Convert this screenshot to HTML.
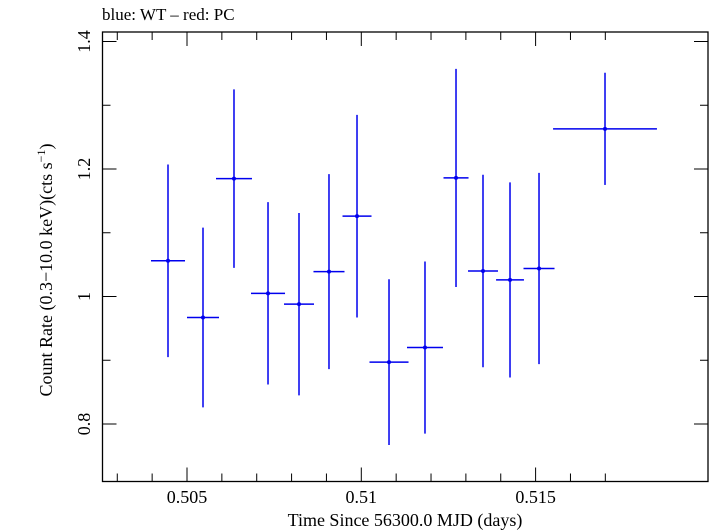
<!DOCTYPE html>
<html><head><meta charset="utf-8"><style>
html,body{margin:0;padding:0;background:#fff;}
svg{display:block;font-family:"Liberation Serif",serif;}
</style></head><body>
<svg id="chart" width="709" height="532" viewBox="0 0 709 532">
<text x="102" y="20" font-size="17" fill="#000">blue: WT – red: PC</text>
<rect x="102.5" y="32" width="605.5" height="449.5" fill="none" stroke="#000" stroke-width="1.3"/>
<g id="axes"></g>
<g id="series"></g>
<text x="405" y="526" font-size="18" text-anchor="middle">Time Since 56300.0 MJD (days)</text>
<text transform="translate(52,270) rotate(-90)" font-size="18" text-anchor="middle">Count Rate (0.3−10.0 keV)(cts s<tspan font-size="12" dy="-7">−1</tspan><tspan dy="7">)</tspan></text>
</svg>
<script>
const times=[0.504455,0.505459,0.506348,0.507324,0.508213,0.509073,0.509877,0.510795,0.511827,0.512717,0.513491,0.514266,0.515098,0.516991];
const timeErr=[0.000488,0.000459,0.000516,0.000488,0.00043,0.000445,0.000416,0.00056,0.000516,0.000359,0.00043,0.0004,0.000445,0.00149];
const rates=[1.056,0.967,1.185,1.005,0.988,1.039,1.126,0.897,0.920,1.186,1.040,1.026,1.044,1.263];
const rateErr=[0.151,0.141,0.140,0.143,0.143,0.153,0.159,0.130,0.135,0.171,0.151,0.153,0.150,0.088];
const xTicks=[0.505,0.51,0.515];
const xTickLabels=["0.505","0.51","0.515"];
const yTicks=[0.8,1.0,1.2,1.4];
const yTickLabels=["0.8","1","1.2","1.4"];
const NS="http://www.w3.org/2000/svg";
function xs(v){return 187+(v-0.505)*34860;}
function ys(v){return 296.5-(v-1)*637.5;}
const axes=document.getElementById('axes');
const ser=document.getElementById('series');
function mk(tag,attrs,parent){const e=document.createElementNS(NS,tag);for(const k in attrs)e.setAttribute(k,attrs[k]);parent.appendChild(e);return e;}
const L=102.5,R=708,T=32,B=481.5;
for(let i=0;i<=14;i++){const v=0.503+i*0.001;const x=xs(v);if(x<L||x>R)continue;
 const major=(Math.round(v*1000)%5)===0;const len=major?14:8;
 const t1=mk('line',{x1:x,x2:x,y1:B,y2:B-len,stroke:'#000','stroke-width':1},axes);
 
 
 const t2=mk('line',{x1:x,x2:x,y1:T,y2:T+len,stroke:'#000','stroke-width':1},axes);
 
 }
xTicks.forEach((v,i)=>{const t=mk('text',{x:xs(v),y:503,'font-size':18,'text-anchor':'middle'},axes);t.textContent=xTickLabels[i];
 
 });
for(let i=0;i<=7;i++){const v=0.7+i*0.1;const y=ys(v);if(y<T||y>B)continue;
 const major=Math.abs(Math.round(v*10)%2)===0;const len=major?14:8;
 const t1=mk('line',{x1:L,x2:L+len,y1:y,y2:y,stroke:'#000','stroke-width':1},axes);
 
 
 const t2=mk('line',{x1:R,x2:R-len,y1:y,y2:y,stroke:'#000','stroke-width':1},axes);
 
 }
yTicks.forEach((v,i)=>{const t=mk('text',{'font-size':18,'text-anchor':'middle',transform:`translate(90,${ys(v)}) rotate(-90)`},axes);t.textContent=yTickLabels[i];
 
 });
times.forEach((t,i)=>{const g=mk('g',{},ser);
 
 
 mk('line',{x1:xs(t-timeErr[i]),x2:xs(t+timeErr[i]),y1:ys(rates[i]),y2:ys(rates[i]),stroke:'#0000ee','stroke-width':1.5},g);
 mk('line',{x1:xs(t),x2:xs(t),y1:ys(rates[i]-rateErr[i]),y2:ys(rates[i]+rateErr[i]),stroke:'#0000ee','stroke-width':1.5},g);
 mk('circle',{cx:xs(t),cy:ys(rates[i]),r:2,fill:'#0000ee'},g);});
</script>
</body></html>
